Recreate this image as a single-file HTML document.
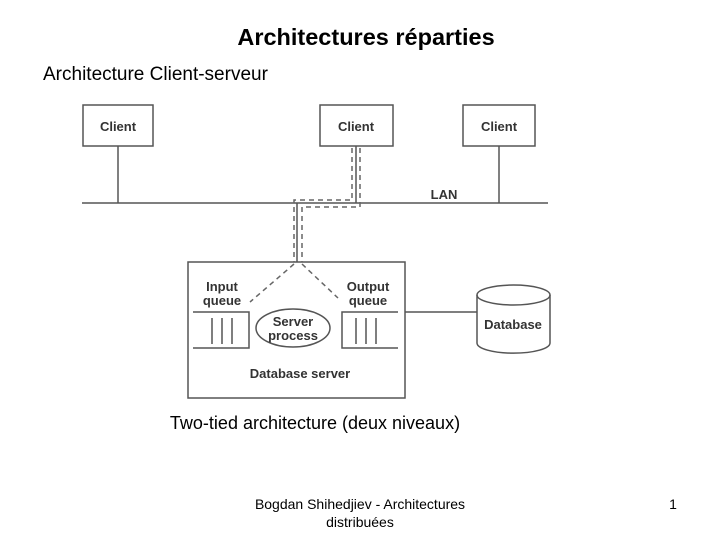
<!DOCTYPE html>
<html><head><style>body{margin:0;background:#fff;width:720px;height:540px;overflow:hidden;font-family:"Liberation Sans",sans-serif}</style></head><body>
<svg width="720" height="540" xmlns="http://www.w3.org/2000/svg" font-family="Liberation Sans, sans-serif">
<text x="366" y="45" font-size="23.5" font-weight="bold" text-anchor="middle">Architectures réparties</text>
<text x="43" y="80" font-size="19">Architecture Client-serveur</text>
<g stroke="#555" stroke-width="1.5" fill="none">
<rect x="83" y="105" width="70" height="41"/>
<rect x="320" y="105" width="73" height="41"/>
<rect x="463" y="105" width="72" height="41"/>
<line x1="82" y1="203" x2="548" y2="203"/>
<line x1="118" y1="146" x2="118" y2="203"/>
<line x1="356" y1="146" x2="356" y2="203"/>
<line x1="499" y1="146" x2="499" y2="203"/>
<rect x="188" y="262" width="217" height="136"/>
<line x1="297" y1="203" x2="297" y2="262"/>
<line x1="405" y1="312" x2="477" y2="312"/>
<path d="M193 312H249V348H193M212 318V344M222 318V344M232 318V344"/>
<path d="M398 312H342V348H398M356 318V344M366 318V344M376 318V344"/>
<ellipse cx="293" cy="328" rx="37" ry="19"/>
<path d="M477 295V343A36 10 0 0 0 550 343V295"/>
<ellipse cx="513.5" cy="295" rx="36.5" ry="10"/>
</g>
<g stroke="#666" stroke-width="1.5" fill="none" stroke-dasharray="5,4">
<path d="M352 148V200H294V262"/>
<path d="M360 148V207H302V262"/>
<path d="M294 264L250 302"/>
<path d="M302 264L338 298"/>
</g>
<g font-size="13" fill="#333" text-anchor="middle" font-weight="600">
<text x="118" y="131">Client</text><text x="356" y="131">Client</text><text x="499" y="131">Client</text>
<text x="444" y="199">LAN</text>
<text x="222" y="291">Input</text><text x="222" y="305">queue</text>
<text x="368" y="291">Output</text><text x="368" y="305">queue</text>
<text x="293" y="326">Server</text><text x="293" y="340">process</text>
<text x="300" y="378">Database server</text>
<text x="513" y="329">Database</text>
</g>
<text x="315" y="429" font-size="18" text-anchor="middle">Two-tied architecture (deux niveaux)</text>
<text x="360" y="509" font-size="14" text-anchor="middle">Bogdan Shihedjiev - Architectures</text>
<text x="360" y="527" font-size="14" text-anchor="middle">distribuées</text>
<text x="673" y="509" font-size="14" text-anchor="middle">1</text>
</svg>
</body></html>
